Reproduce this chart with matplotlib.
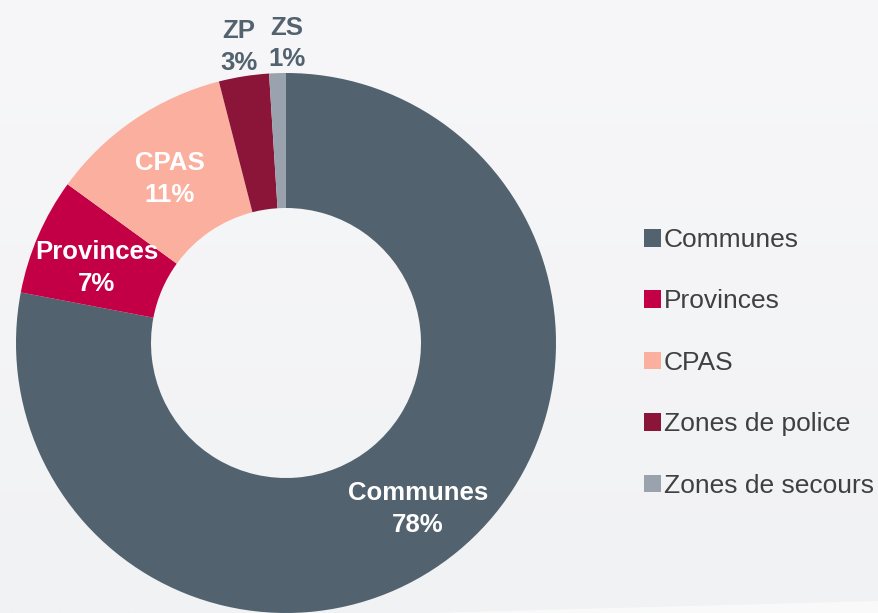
import numpy as np
import matplotlib
matplotlib.use("Agg")
import matplotlib.pyplot as plt

plt.rcParams['font.family'] = ['Liberation Sans', 'DejaVu Sans']

categories = ['Communes', 'Provinces', 'CPAS', 'Zones de police', 'Zones de secours']
short_labels = ['Communes', 'Provinces', 'CPAS', 'ZP', 'ZS']
values = [78, 7, 11, 3, 1]
colors = ['#52636f', '#c30045', '#fbb09f', '#8b1538', '#9aa3ad']
outside = [False, False, False, True, True]

W, H = 879, 613
fig = plt.figure(figsize=(W / 100, H / 100), dpi=100)
ax = fig.add_axes([0, 0, 1, 1])

# fond gris clair en dégradé
grad = np.linspace(0, 1, 256).reshape(-1, 1)
bg = np.ones((256, 1, 3))
top = np.array([247, 247, 249]) / 255
bot = np.array([241, 242, 244]) / 255
bg[:, 0, :] = top + (bot - top) * grad
ax.imshow(bg, extent=[0, W, 0, H], aspect='auto', zorder=0)
ax.fill([430, 879, 879], [0, 0, 12], color='white', alpha=0.6, lw=0, zorder=0.5)

cx, cy, R = 286, H - 343, 270
wedges, _ = ax.pie(values, colors=colors, startangle=90, counterclock=False,
                   radius=R, center=(cx, cy),
                   wedgeprops=dict(width=R * 0.5, linewidth=0))

for i, (w, lab, v, out) in enumerate(zip(wedges, short_labels, values, outside)):
    ang = np.deg2rad((w.theta1 + w.theta2) / 2)
    d = R * 1.11 if out else R * 0.765
    x = cx + d * np.cos(ang)
    y = cy + d * np.sin(ang)
    if not out:
        y -= 7
    if i == len(values) - 1:
        x += 10  # petite tranche : décaler ZS à droite de ZP
    ax.text(x, y, f"{lab}\n{v}%", ha='center', va='center', fontsize=18.5,
            fontweight='bold', color='#52636f' if out else 'white',
            linespacing=1.4, zorder=5)

leg = ax.legend(wedges, categories, loc='upper left', bbox_to_anchor=(644 / W, 1 - 228 / H),
                frameon=False, fontsize=19, handlelength=0.65, handleheight=0.65,
                handletextpad=0.1, labelspacing=1.42, borderpad=0, borderaxespad=0)
for t in leg.get_texts():
    t.set_color('#404040')

ax.set_xlim(0, W)
ax.set_ylim(0, H)
ax.set_aspect('auto')
ax.axis('off')

fig.savefig('out.png', dpi=100)
